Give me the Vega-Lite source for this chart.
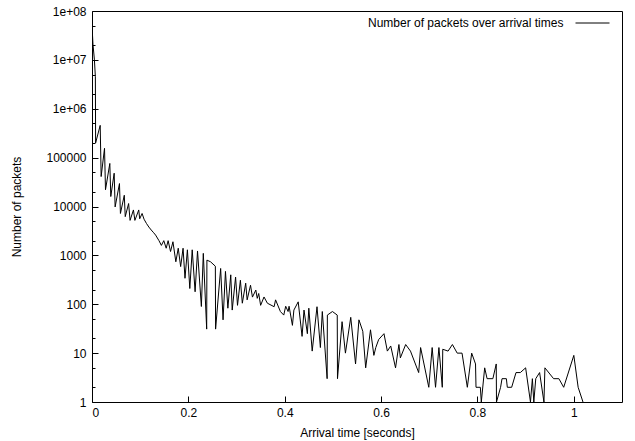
{
  "$schema": "https://vega.github.io/schema/vega-lite/v6.json",
  "width": 530,
  "height": 391,
  "autosize": {"type": "none"},
  "padding": {"left": 92, "top": 11, "right": 13, "bottom": 39},
  "background": "white",
  "config": {
    "font": "Liberation Sans",
    "view": {"stroke": "black", "strokeWidth": 1},
    "axis": {
      "domain": false, "grid": false,
      "labelFont": "Liberation Sans", "labelFontSize": 12, "labelColor": "black",
      "titleFont": "Liberation Sans", "titleFontSize": 12, "titleFontWeight": "normal", "titleColor": "black"
    }
  },
  "data": {"values": [
    {"t": 0, "n": 51000000}, {"t": 0.002, "n": 21000000}, {"t": 0.005, "n": 10000000}, {"t": 0.007, "n": 4500000},
    {"t": 0.0075, "n": 200000}, {"t": 0.017, "n": 457000}, {"t": 0.019, "n": 41000}, {"t": 0.026, "n": 155000},
    {"t": 0.028, "n": 22000}, {"t": 0.037, "n": 76000}, {"t": 0.039, "n": 16000}, {"t": 0.046, "n": 48000},
    {"t": 0.048, "n": 9800}, {"t": 0.057, "n": 29500}, {"t": 0.059, "n": 7200}, {"t": 0.067, "n": 17000},
    {"t": 0.069, "n": 6200}, {"t": 0.076, "n": 11500}, {"t": 0.079, "n": 5200}, {"t": 0.086, "n": 8500},
    {"t": 0.089, "n": 5200}, {"t": 0.097, "n": 8500}, {"t": 0.099, "n": 5600}, {"t": 0.104, "n": 7200},
    {"t": 0.108, "n": 5500}, {"t": 0.113, "n": 4500}, {"t": 0.118, "n": 3800}, {"t": 0.123, "n": 3300},
    {"t": 0.128, "n": 2900}, {"t": 0.132, "n": 2600}, {"t": 0.139, "n": 2000}, {"t": 0.144, "n": 1600},
    {"t": 0.149, "n": 2000}, {"t": 0.154, "n": 1400}, {"t": 0.158, "n": 2000}, {"t": 0.163, "n": 1200},
    {"t": 0.168, "n": 1900}, {"t": 0.174, "n": 740}, {"t": 0.179, "n": 1400}, {"t": 0.184, "n": 590},
    {"t": 0.189, "n": 1400}, {"t": 0.193, "n": 340}, {"t": 0.198, "n": 1300}, {"t": 0.203, "n": 210},
    {"t": 0.208, "n": 1300}, {"t": 0.214, "n": 180}, {"t": 0.219, "n": 1230}, {"t": 0.227, "n": 90},
    {"t": 0.231, "n": 1100}, {"t": 0.238, "n": 31}, {"t": 0.2385, "n": 800}, {"t": 0.246, "n": 740},
    {"t": 0.256, "n": 600}, {"t": 0.2565, "n": 31}, {"t": 0.267, "n": 540}, {"t": 0.272, "n": 48},
    {"t": 0.277, "n": 470}, {"t": 0.282, "n": 83}, {"t": 0.288, "n": 400}, {"t": 0.291, "n": 76},
    {"t": 0.298, "n": 360}, {"t": 0.302, "n": 95}, {"t": 0.308, "n": 310}, {"t": 0.312, "n": 105},
    {"t": 0.319, "n": 270}, {"t": 0.322, "n": 123}, {"t": 0.329, "n": 245}, {"t": 0.333, "n": 140},
    {"t": 0.34, "n": 195}, {"t": 0.343, "n": 132}, {"t": 0.346, "n": 166}, {"t": 0.35, "n": 95},
    {"t": 0.357, "n": 141}, {"t": 0.364, "n": 105}, {"t": 0.378, "n": 89}, {"t": 0.381, "n": 123},
    {"t": 0.391, "n": 71}, {"t": 0.398, "n": 60}, {"t": 0.402, "n": 91}, {"t": 0.407, "n": 71},
    {"t": 0.409, "n": 91}, {"t": 0.416, "n": 37}, {"t": 0.419, "n": 76}, {"t": 0.428, "n": 112},
    {"t": 0.436, "n": 22}, {"t": 0.44, "n": 76}, {"t": 0.447, "n": 25}, {"t": 0.45, "n": 83},
    {"t": 0.457, "n": 11}, {"t": 0.467, "n": 89}, {"t": 0.474, "n": 13}, {"t": 0.478, "n": 71},
    {"t": 0.488, "n": 3}, {"t": 0.4885, "n": 60}, {"t": 0.499, "n": 71}, {"t": 0.509, "n": 60},
    {"t": 0.5095, "n": 3}, {"t": 0.519, "n": 44}, {"t": 0.526, "n": 10}, {"t": 0.537, "n": 54},
    {"t": 0.547, "n": 6}, {"t": 0.554, "n": 48}, {"t": 0.562, "n": 28}, {"t": 0.568, "n": 5},
    {"t": 0.578, "n": 30}, {"t": 0.585, "n": 9}, {"t": 0.589, "n": 13}, {"t": 0.595, "n": 19},
    {"t": 0.606, "n": 25}, {"t": 0.613, "n": 11}, {"t": 0.62, "n": 14}, {"t": 0.63, "n": 5},
    {"t": 0.637, "n": 15}, {"t": 0.64, "n": 8}, {"t": 0.651, "n": 15}, {"t": 0.661, "n": 11},
    {"t": 0.678, "n": 4}, {"t": 0.682, "n": 13}, {"t": 0.699, "n": 2}, {"t": 0.706, "n": 13},
    {"t": 0.713, "n": 2}, {"t": 0.72, "n": 13}, {"t": 0.727, "n": 2}, {"t": 0.728, "n": 12},
    {"t": 0.739, "n": 11}, {"t": 0.748, "n": 15}, {"t": 0.758, "n": 10}, {"t": 0.768, "n": 10},
    {"t": 0.779, "n": 2}, {"t": 0.788, "n": 10}, {"t": 0.796, "n": 6}, {"t": 0.797, "n": 2},
    {"t": 0.806, "n": 2}, {"t": 0.808, "n": 1}, {"t": 0.815, "n": 5}, {"t": 0.82, "n": 3},
    {"t": 0.824, "n": 3}, {"t": 0.832, "n": 3}, {"t": 0.839, "n": 6}, {"t": 0.8395, "n": 1},
    {"t": 0.848, "n": 2}, {"t": 0.851, "n": 3}, {"t": 0.86, "n": 3}, {"t": 0.862, "n": 2},
    {"t": 0.871, "n": 2}, {"t": 0.88, "n": 4}, {"t": 0.889, "n": 4}, {"t": 0.9, "n": 5},
    {"t": 0.91, "n": 1}, {"t": 0.914, "n": 3}, {"t": 0.917, "n": 1}, {"t": 0.921, "n": 3},
    {"t": 0.929, "n": 4}, {"t": 0.938, "n": 1}, {"t": 0.94, "n": 5}, {"t": 0.958, "n": 3},
    {"t": 0.969, "n": 3}, {"t": 0.979, "n": 2}, {"t": 1.0, "n": 9}, {"t": 1.009, "n": 2},
    {"t": 1.019, "n": 1}
  ]},
  "mark": {"type": "line", "color": "black", "strokeWidth": 1, "clip": true},
  "encoding": {
    "x": {
      "field": "t", "type": "quantitative",
      "scale": {"domain": [0, 1.1], "nice": false, "zero": false},
      "axis": {"orient": "bottom", "values": [0, 0.2, 0.4, 0.6, 0.8, 1], "format": "~g", "tickColor": "black", "tickWidth": 1, "tickSize": -6, "labelPadding": 11, "title": "Arrival time [seconds]", "titlePadding": 9}
    },
    "y": {
      "field": "n", "type": "quantitative",
      "scale": {"type": "log", "domain": [1, 100000000], "nice": false},
      "axis": {
        "orient": "left",
        "values": [1, 2, 5, 10, 20, 50, 100, 200, 500, 1000, 2000, 5000, 10000, 20000, 50000, 100000, 200000, 500000, 1000000, 2000000, 5000000, 10000000, 20000000, 50000000, 100000000],
        "labelExpr": "abs(log(datum.value) / LN10 - round(log(datum.value) / LN10)) > 0.01 ? '' : datum.value >= 1000000 ? '1e+0' + round(log(datum.value) / LN10) : format(datum.value, 'd')",
        "tickColor": "black", "tickWidth": 1,
        "tickSize": {"condition": {"test": "abs(log(datum.value) / LN10 - round(log(datum.value) / LN10)) > 0.01", "value": -3}, "value": -6},
        "labelPadding": 12, "title": "Number of packets", "titlePadding": 22
      }
    },
    "color": {
      "datum": "Number of packets over arrival times", "type": "nominal",
      "scale": {"range": ["black"]},
      "legend": {
        "orient": "none", "legendX": 276, "legendY": 5,
        "title": "Number of packets over arrival times", "titleOrient": "left",
        "titleFont": "Liberation Sans", "titleFontSize": 12, "titleFontWeight": "normal", "titleColor": "black",
        "titlePadding": 11, "titleBaseline": "middle", "titleAnchor": "middle", "titleLimit": 500,
        "labelExpr": "''", "labelOffset": 0, "clipHeight": 14,
        "symbolType": "stroke", "symbolSize": 1156, "symbolStrokeWidth": 1, "symbolStrokeColor": "black"
      }
    }
  }
}
